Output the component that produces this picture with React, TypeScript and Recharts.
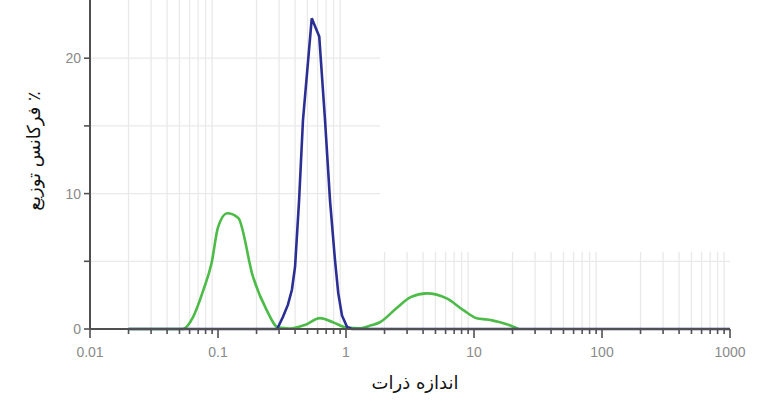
import React from 'react';
import { LineChart, Line, XAxis, YAxis, ReferenceLine, Label } from 'recharts';

// Blue series (particle size, % frequency)
const blueX = [0.02, 0.29, 0.322, 0.352, 0.378, 0.4, 0.43, 0.461, 0.54, 0.618, 0.686, 0.75, 0.82, 0.87, 0.93, 1.02, 1.11, 1000];
const blueY = [0, 0, 0.9, 1.8, 2.9, 4.6, 9.5, 15.4, 22.95, 21.6, 15.4, 9.5, 5.1, 2.65, 1.0, 0.15, 0, 0];

// Green series
const greenX = [0.02, 0.053, 0.064, 0.077, 0.089, 0.1, 0.118, 0.144, 0.187, 0.24, 0.296, 0.363, 0.478, 0.626, 0.79, 1.01, 1.29, 1.55, 1.84, 2.49, 3.2, 4.27, 6.12, 8.25, 10.5, 12.6, 14.1, 18, 22.2];
const greenY = [0, 0, 0.9, 2.9, 4.85, 7.5, 8.55, 8.2, 3.9, 1.4, 0.1, 0.04, 0.3, 0.8, 0.5, 0.1, 0.05, 0.25, 0.5, 1.55, 2.35, 2.63, 2.26, 1.4, 0.8, 0.7, 0.62, 0.35, 0];

// Axis ticks
const xMajorTicks = [0.01, 0.1, 1, 10, 100, 1000];
const xMajorLabels = ['0.01', '0.1', '1', '10', '100', '1000'];
const xMinorLeft = [0.02, 0.03, 0.04, 0.05, 0.06, 0.07, 0.08, 0.09, 0.2, 0.3, 0.4, 0.5, 0.6, 0.7, 0.8, 0.9];
const xMinorRight = [2, 3, 4, 5, 6, 7, 8, 9, 20, 30, 40, 50, 60, 70, 80, 90, 200, 300, 400, 500, 600, 700, 800, 900];
const yTicks = [0, 5, 10, 15, 20];
const yLabeledTicks = [0, 10, 20];

const xAxisTitle = 'اندازه ذرات';
const yAxisTitle = '٪ فرکانس توزیع';

const blueData = blueX.map((x, i) => ({ x, y: blueY[i] }));
const greenData = greenX.map((x, i) => ({ x, y: greenY[i] }));
const allXTicks = [...xMajorTicks, ...xMinorLeft, ...xMinorRight].sort((a, b) => a - b);

const Y_MAX = 24.3;
const GRID = '#e9e9e9';
const AXIS = '#505050';
const TICK_TEXT = '#8a8a8a';

const XTick = (props: any) => {
  const { x, y, payload } = props;
  const v = payload.value;
  const idx = xMajorTicks.indexOf(v);
  const major = idx >= 0;
  return (
    <g>
      <line x1={x} x2={x} y1={y} y2={y + (major ? 9 : 5)} stroke={AXIS} strokeWidth={1.6} />
      {major && (
        <text x={x} y={y + 28} textAnchor="middle" fill={TICK_TEXT} fontSize={14} fontFamily="'Liberation Sans', Arial, sans-serif">
          {xMajorLabels[idx]}
        </text>
      )}
    </g>
  );
};

const XTitle = (props: any) => {
  const vb = props.viewBox;
  return (
    <text x={vb.x + vb.width / 2 + 5} y={vb.y + 60} textAnchor="middle" fill="#111" fontSize={18} fontFamily="'DejaVu Sans', sans-serif" direction="rtl">
      {xAxisTitle}
    </text>
  );
};

const YTitle = () => {
  const cx = 40;
  const cy = 151;
  return (
    <text x={cx} y={cy} transform={`rotate(-90, ${cx}, ${cy})`} textAnchor="middle" fill="#111" fontSize={18} fontFamily="'DejaVu Sans', sans-serif" direction="rtl">
      {yAxisTitle}
    </text>
  );
};

export default function App() {
  return (
    <div style={{ position: 'absolute', left: 0, top: 0, width: 768, height: 414, background: '#fff' }}>
      <LineChart width={768} height={414} margin={{ top: 0, right: 38, bottom: 0, left: 0 }}>
        <XAxis
          dataKey="x"
          type="number"
          scale="log"
          domain={[0.01, 1000]}
          ticks={allXTicks}
          interval={0}
          tick={<XTick />}
          tickLine={false}
          tickSize={0}
          tickMargin={0}
          height={85}
          axisLine={{ stroke: AXIS, strokeWidth: 2 }}
        >
          <Label content={<XTitle />} />
        </XAxis>
        <YAxis
          type="number"
          domain={[0, Y_MAX]}
          ticks={yTicks}
          interval={0}
          width={90}
          tickSize={6}
          tickMargin={3}
          tickFormatter={(v: number) => (yLabeledTicks.includes(v) ? String(v) : '')}
          tick={{ fill: TICK_TEXT, fontSize: 14, fontFamily: "'Liberation Sans', Arial, sans-serif" }}
          tickLine={{ stroke: AXIS, strokeWidth: 1.6 }}
          axisLine={{ stroke: AXIS, strokeWidth: 2 }}
        >
          <Label content={<YTitle />} />
        </YAxis>
        {xMinorLeft.map((v) => (
          <ReferenceLine key={'vl' + v} segment={[{ x: v, y: 0 }, { x: v, y: Y_MAX }]} stroke={GRID} strokeWidth={1.3} />
        ))}
        {xMinorRight.map((v) => (
          <ReferenceLine key={'vr' + v} segment={[{ x: v, y: 0 }, { x: v, y: 5.7 }]} stroke={GRID} strokeWidth={1.3} />
        ))}
        <ReferenceLine segment={[{ x: 0.01, y: 5 }, { x: 1000, y: 5 }]} stroke={GRID} strokeWidth={1.3} />
        {[10, 15, 20].map((v) => (
          <ReferenceLine key={'h' + v} segment={[{ x: 0.01, y: v }, { x: 1.85, y: v }]} stroke={GRID} strokeWidth={1.3} />
        ))}
        <Line data={greenData} dataKey="y" type="monotone" stroke="#4cbb47" strokeWidth={2.6} dot={false} isAnimationActive={false} />
        <Line data={blueData} dataKey="y" type="linear" stroke="#2b2f93" strokeWidth={2.6} dot={false} isAnimationActive={false} />
      </LineChart>
    </div>
  );
}
